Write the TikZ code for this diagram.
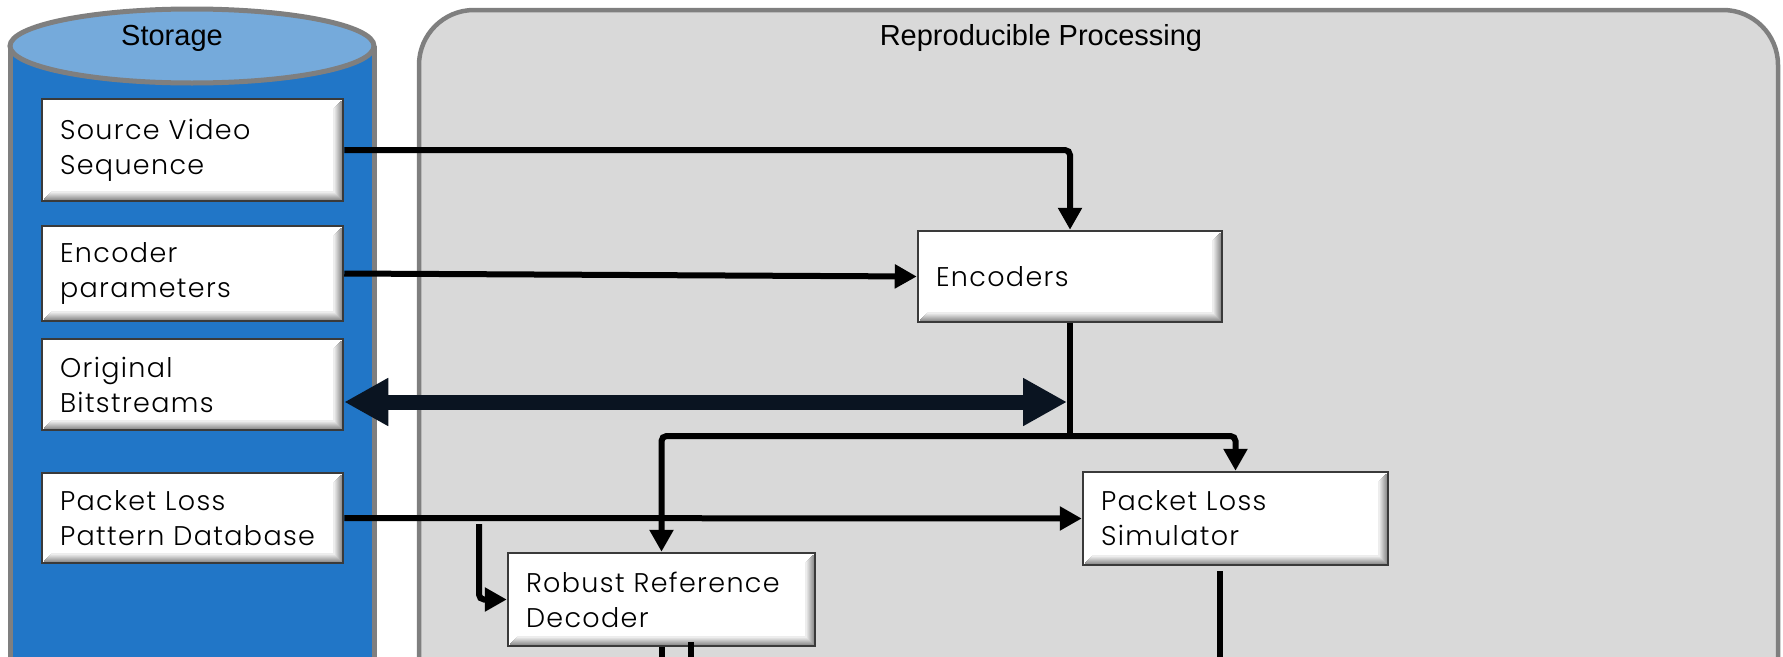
\documentclass[tikz,border=0pt]{standalone}
\usepackage{fontspec}
\usepackage{tikz}
\usetikzlibrary{arrows.meta, calc, positioning, shapes}
\newfontfamily\headfont{Liberation Sans}
\newfontfamily\boxfont{Poppins}[UprightFont=* Light, LetterSpace=5]
\definecolor{storeblue}{HTML}{2176C7}
\definecolor{storetop}{HTML}{75AADB}
\definecolor{framegray}{HTML}{7F7F7F}
\definecolor{procgray}{HTML}{D9D9D9}
\definecolor{boxline}{HTML}{3A3A3A}
\definecolor{bignavy}{HTML}{0A1421}

\begin{document}
\begin{tikzpicture}[x=1pt, y=-1pt,
            box/.style={
                draw=boxline, line width=2.5pt, fill=white,
                align=left, inner xsep=18pt, inner ysep=0pt,
                font=\boxfont\fontsize{27}{35}\selectfont,
                path picture={
                    \foreach \k in {2,...,9}{
                        \pgfmathsetmacro\bevel{52-5*\k}
                        \draw[black!\bevel, line width=1.1pt]
                            ([shift={(-\k pt,-\k pt)}]path picture bounding box.north east)
                            -- ([shift={(-\k pt,\k pt)}]path picture bounding box.south east)
                            -- ([shift={(\k pt,\k pt)}]path picture bounding box.south west);
                    }
                }
            },
            head/.style={font=\headfont\fontsize{29}{34}\selectfont, anchor=base},
            conn/.style={line width=6pt, rounded corners=5pt},
            arr/.style={conn, -{Triangle[length=22pt, width=23pt]}},
            bigarr/.style={line width=15pt, draw=bignavy,
                {Triangle[length=44pt, width=45pt]}-{Triangle[length=44pt, width=45pt]}}]
    \useasboundingbox (0,0) rectangle (1783,656);
    \clip (0,0) rectangle (1783,656);

    % storage cylinder
    \fill[storeblue] (10,46) rectangle (374,700);
    \draw[framegray, line width=5pt] (10,46) -- (10,700) (374,46) -- (374,700);
    \draw[framegray, line width=5pt, fill=storetop] (192,46) ellipse [x radius=182, y radius=37];
    \node[head] (storehead) at (172,45) {Storage};

    % processing area
    \draw[framegray, line width=4.5pt, fill=procgray, rounded corners=55pt]
        (419,700) |- (1778,10) -- (1778,700);
    \node[head] (prochead) at (1041,45) {Reproducible Processing};

    % storage items
    \node[box, text width=265pt, minimum height=102pt] (svs)  at (192.5,150)   {Source Video\\Sequence};
    \node[box, text width=265pt, minimum height=95pt]  (epar) at (192.5,273.5) {Encoder\\parameters};
    \node[box, text width=265pt, minimum height=91pt]  (ob)   at (192.5,384.5) {Original\\Bitstreams};
    \node[box, text width=265pt, minimum height=90pt]  (plpd) at (192.5,518)   {Packet Loss\\Pattern Database};

    % processing blocks
    \node[box, text width=268pt, minimum height=91pt] (enc) at (1070,276.5)  {Encoders};
    \node[box, text width=269pt, minimum height=93pt] (pls) at (1235.5,518.5) {Packet Loss\\Simulator};
    \node[box, text width=271pt, minimum height=93pt] (rrd) at (661.5,599.5)  {Robust Reference\\Decoder};

    \coordinate (split) at (enc.south |- 0,436);
    \coordinate (obtip) at ([xshift=-3pt]enc.south |- 0,402);
    \coordinate (tap) at (479,524);
    \coordinate (dec-a) at (662,700);
    \coordinate (dec-b) at (691,700);
    \coordinate (sim-out) at (1220,700);

    \draw[arr] (svs.east) -| (enc.north);
    \draw[arr] (epar.east) -- (enc.west);
    \draw[bigarr] (ob.east |- obtip) -- (obtip);
    \draw[conn] (enc.south) -- (split);
    \draw[arr] (split) -| (rrd.north);
    \draw[arr] (split) -| (pls.north);
    \draw[arr] (plpd.east) -- (pls.west);
    \draw[arr] (tap) |- (rrd.west);
    \draw[conn] (rrd.south -| dec-a) -- (dec-a);
    \draw[conn] ([yshift=5pt]rrd.south -| dec-b) -- (dec-b);
    \draw[conn, shorten <=5pt] (pls.south -| sim-out) -- (sim-out);
\end{tikzpicture}
\end{document}
